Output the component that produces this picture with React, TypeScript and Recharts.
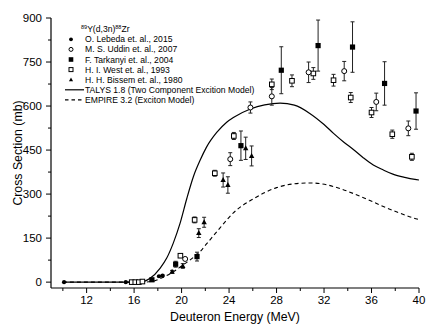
import React from 'react';
import { ComposedChart, Scatter, Line, XAxis, YAxis, ErrorBar, Legend } from 'recharts';

const FONT = '"Liberation Sans", Arial, Helvetica, sans-serif';

// Experimental data: energy (MeV), cross section (mb), uncertainty (mb)
const lebedaEnergy = [10.1, 15.3, 18.1, 18.4];
const lebedaCs = [0, 0, 20, 22];
const lebedaErr = [0, 0, 2, 2];

const uddinEnergy = [20.3, 24.1, 25.8, 27.6, 30.7, 33.7, 36.4, 39.1];
const uddinCs = [79, 419, 595, 633, 715, 719, 614, 524];
const uddinErr = [5, 22, 19, 30, 35, 33, 30, 25];

const tarkanyiEnergy = [17.5, 19.5, 21.3, 25.0, 28.4, 31.5, 34.4, 37.1, 39.75];
const tarkanyiCs = [8, 61, 87, 465, 722, 806, 801, 677, 583];
const tarkanyiErr = [3, 10, 15, 50, 80, 87, 86, 74, 62];

const westEnergy = [15.8, 16.1, 16.4, 16.7, 19.9, 21.1, 22.8, 24.4, 27.6, 29.3, 31.1, 32.8, 34.25, 36.0, 37.75, 39.4];
const westCs = [0, 0, 0, 2, 90, 212, 371, 498, 674, 686, 711, 688, 629, 578, 504, 427];
const westErr = [0, 0, 0, 1, 5, 10, 10, 12, 18, 20, 20, 20, 17, 17, 14, 12];

const bissemEnergy = [19.2, 20.1, 21.45, 21.9, 23.5, 23.9, 25.4, 25.9];
const bissemCs = [35, 55, 167, 204, 348, 331, 456, 430];
const bissemErr = [5, 8, 15, 17, 24, 28, 38, 34];

// Model calculations
const talysEnergy = [10, 16.5, 17.35, 18.2, 18.75, 19.3, 19.87, 20.44, 21.0, 21.56, 22.1, 22.96, 23.8, 24.4, 25.8, 27.0, 28.3, 29.5, 30.8, 32.0, 32.8, 33.7, 34.47, 35.3, 36.15, 37.0, 37.8, 38.8, 39.66, 40];
const talysCs = [0, 0, 13, 48, 82, 133, 200, 285, 360, 415, 460, 510, 545, 562, 590, 604, 610, 603, 575, 537, 507, 476, 452, 424, 399, 382, 368, 357, 350, 348];

const empireEnergy = [10, 16.6, 17.6, 18.2, 19.3, 20.0, 20.86, 21.56, 22.1, 23.24, 24.36, 26.05, 28.0, 29.5, 30.8, 32.2, 33.4, 34.47, 35.6, 36.7, 38.2, 39.5, 40];
const empireCs = [0, 0, 3, 12, 35, 55, 80, 104, 130, 185, 236, 284, 322, 335, 338, 332, 318, 302, 283, 263, 238, 219, 213];

const xTicks = [10, 12, 14, 16, 18, 20, 22, 24, 26, 28, 30, 32, 34, 36, 38, 40];
const yTicks = [0, 75, 150, 225, 300, 375, 450, 525, 600, 675, 750, 825, 900];

const legendTitle = { pre: '89', mid: 'Y(d,3n)', post: '88', end: 'Zr' };
const legendItems = [
  { key: 'lebeda', label: 'O. Lebeda et. al., 2015' },
  { key: 'uddin', label: 'M. S. Uddin et. al., 2007' },
  { key: 'tarkanyi', label: 'F. Tarkanyi et. al., 2004' },
  { key: 'west', label: 'H. I. West et. al., 1993' },
  { key: 'bissem', label: 'H. H. Bissem et. al., 1980' },
  { key: 'talys', label: 'TALYS 1.8 (Two Component Excition Model)' },
  { key: 'empire', label: 'EMPIRE 3.2 (Exciton Model)' },
];

const toPoints = (e: number[], v: number[], err?: number[]) =>
  e.map((x, i) => ({ e: x, v: v[i], err: err ? err[i] : 0 }));

const lebedaData = toPoints(lebedaEnergy, lebedaCs, lebedaErr);
const uddinData = toPoints(uddinEnergy, uddinCs, uddinErr);
const tarkanyiData = toPoints(tarkanyiEnergy, tarkanyiCs, tarkanyiErr);
const westData = toPoints(westEnergy, westCs, westErr);
const bissemData = toPoints(bissemEnergy, bissemCs, bissemErr);
const talysData = toPoints(talysEnergy, talysCs);
const empireData = toPoints(empireEnergy, empireCs);

const FilledCircle = (p: any) => <circle cx={p.cx} cy={p.cy} r={2.1} fill="#000" />;
const OpenCircle = (p: any) => <circle cx={p.cx} cy={p.cy} r={2.5} fill="#fff" stroke="#000" strokeWidth={1} />;
const FilledSquare = (p: any) => <rect x={p.cx - 2.6} y={p.cy - 2.6} width={5.2} height={5.2} fill="#000" />;
const OpenSquare = (p: any) => <rect x={p.cx - 2.3} y={p.cy - 2.3} width={4.6} height={4.6} fill="#fff" stroke="#000" strokeWidth={1} />;
const Triangle = (p: any) => (
  <path d={`M${p.cx},${p.cy - 3} L${p.cx + 2.7},${p.cy + 2} L${p.cx - 2.7},${p.cy + 2} Z`} fill="#000" />
);

const XTick = (props: any) => {
  const { x, y, payload } = props;
  const v = payload.value;
  const major = v % 4 === 0;
  return (
    <g>
      <line x1={x} y1={y} x2={x} y2={y + (major ? 5 : 3)} stroke="#000" strokeWidth={1} />
      {major && (
        <text x={x} y={y + 16} textAnchor="middle" fontSize={11.5} fontFamily={FONT} fill="#000">
          {v}
        </text>
      )}
    </g>
  );
};

const YTick = (props: any) => {
  const { x, y, payload } = props;
  const v = payload.value;
  const major = v % 150 === 0;
  return (
    <g>
      <line x1={x - (major ? 5 : 3)} y1={y} x2={x} y2={y} stroke="#000" strokeWidth={1} />
      {major && (
        <text x={x - 9} y={y} dy="0.36em" textAnchor="end" fontSize={11.5} fontFamily={FONT} fill="#000">
          {v}
        </text>
      )}
    </g>
  );
};

const LegendMarker = ({ k, cx, cy }: { k: string; cx: number; cy: number }) => {
  switch (k) {
    case 'lebeda':
      return <circle cx={cx} cy={cy} r={1.9} fill="#000" />;
    case 'uddin':
      return <circle cx={cx} cy={cy} r={2} fill="#fff" stroke="#000" strokeWidth={1} />;
    case 'tarkanyi':
      return <rect x={cx - 2.3} y={cy - 2.3} width={4.6} height={4.6} fill="#000" />;
    case 'west':
      return <rect x={cx - 2} y={cy - 2} width={4} height={4} fill="#fff" stroke="#000" strokeWidth={1} />;
    case 'bissem':
      return <path d={`M${cx},${cy - 2.3} L${cx + 2.1},${cy + 1.6} L${cx - 2.1},${cy + 1.6} Z`} fill="#000" />;
    case 'talys':
      return <line x1={5} y1={cy} x2={24} y2={cy} stroke="#000" strokeWidth={1.2} />;
    default:
      return <line x1={5} y1={cy} x2={24} y2={cy} stroke="#000" strokeWidth={1.2} strokeDasharray="3.5 3" />;
  }
};

const renderLegend = () => (
  <svg width={200} height={90} style={{ display: 'block', overflow: 'visible' }}>
    <text x={21} y={9.5} fontFamily={FONT} fontSize={8.6} fill="#000">
      <tspan fontSize={5.5} dy={-3}>{legendTitle.pre}</tspan>
      <tspan dy={3}>{legendTitle.mid}</tspan>
      <tspan fontSize={5.5} dy={-3}>{legendTitle.post}</tspan>
      <tspan dy={3}>{legendTitle.end}</tspan>
    </text>
    {legendItems.map((it, i) => {
      const cy = 17.3 + i * 10.1;
      return (
        <g key={it.key}>
          <LegendMarker k={it.key} cx={11} cy={cy} />
          <text x={25} y={cy} dy="0.35em" fontFamily={FONT} fontSize={8.6} fill="#000">
            {it.label}
          </text>
        </g>
      );
    })}
  </svg>
);

const errBar = <ErrorBar dataKey="err" direction="y" width={2} stroke="#222" strokeWidth={1} />;

export default function App() {
  return (
    <div style={{ position: 'absolute', left: 0, top: 0, width: 426, height: 324, background: '#fff' }}>
      <ComposedChart width={426} height={324} margin={{ top: 18, right: 7, bottom: 6, left: 6 }}>
        <XAxis
          dataKey="e"
          type="number"
          domain={[9, 40]}
          ticks={xTicks}
          interval={0}
          allowDataOverflow
          height={30}
          tickSize={0}
          tickMargin={0}
          tickLine={false}
          tick={<XTick />}
          axisLine={{ stroke: '#000', strokeWidth: 1.2 }}
          label={() => (
            <text x={235} y={320.5} textAnchor="middle" fontSize={12.3} fontFamily={FONT} fill="#000">
              Deuteron Energy (MeV)
            </text>
          )}
        />
        <YAxis
          type="number"
          domain={[-20, 900]}
          ticks={yTicks}
          interval={0}
          allowDataOverflow
          width={45}
          tickSize={0}
          tickMargin={0}
          tickLine={false}
          tick={<YTick />}
          axisLine={{ stroke: '#000', strokeWidth: 1.2 }}
          label={() => (
            <text
              x={18}
              y={153}
              transform="rotate(-90 18 153)"
              textAnchor="middle"
              dominantBaseline="central"
              fontSize={12.3}
              fontFamily={FONT}
              fill="#000"
            >
              Cross Section (mb)
            </text>
          )}
        />
        <Legend
          layout="vertical"
          align="center"
          verticalAlign="middle"
          wrapperStyle={{ left: 60, top: 22, width: 200, height: 90 }}
          content={renderLegend}
        />
        <Line data={talysData} dataKey="v" type="monotone" stroke="#000" strokeWidth={1.2} dot={false} isAnimationActive={false} legendType="line" />
        <Line data={empireData} dataKey="v" type="monotone" stroke="#000" strokeWidth={1.1} strokeDasharray="4 3" dot={false} isAnimationActive={false} />
        <Scatter data={westData} dataKey="v" shape={OpenSquare} isAnimationActive={false}>{errBar}</Scatter>
        <Scatter data={uddinData} dataKey="v" shape={OpenCircle} isAnimationActive={false}>{errBar}</Scatter>
        <Scatter data={bissemData} dataKey="v" shape={Triangle} isAnimationActive={false}>{errBar}</Scatter>
        <Scatter data={tarkanyiData} dataKey="v" shape={FilledSquare} isAnimationActive={false}>{errBar}</Scatter>
        <Scatter data={lebedaData} dataKey="v" shape={FilledCircle} isAnimationActive={false}>{errBar}</Scatter>
      </ComposedChart>
    </div>
  );
}
